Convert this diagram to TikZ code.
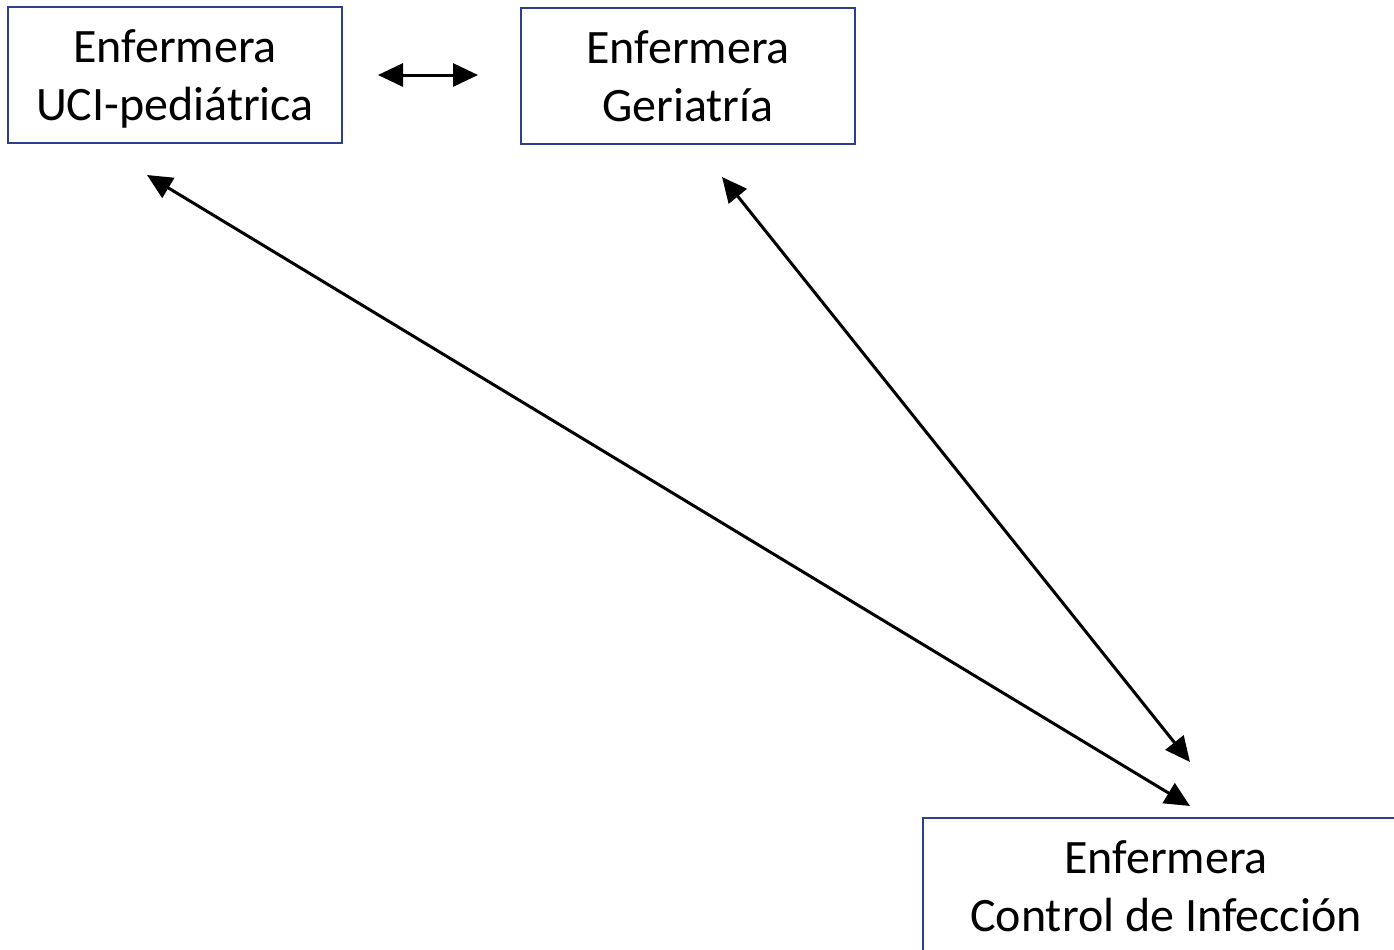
\documentclass[tikz,border=0pt]{standalone}
\usepackage{fontspec}
\setmainfont{Carlito}
\usetikzlibrary{arrows.meta}
\definecolor{boxblue}{HTML}{2F3F8F}
\tikzset{
  rolebox/.style={draw=boxblue, line width=1pt, minimum width=167pt, minimum height=68pt,
    inner sep=0pt, align=center, text depth=0pt, font=\fontsize{24}{29}\selectfont},
  link/.style={line width=1.5pt, {Triangle[length=12.5pt,width=11.5pt]}-{Triangle[length=12.5pt,width=11.5pt]}}
}
\begin{document}
\begin{tikzpicture}[x=0.5pt, y=-0.5pt]
\useasboundingbox (0,0) rectangle (1394,949);
\clip (0,0) rectangle (1394,949);

\node[rolebox] (uci) at (175,75) {Enfermera\\UCI-pediátrica};
\node[rolebox] (geri) at (688,76) {Enfermera\\Geriatría};
\node[rolebox, minimum width=243pt] (infec) at (1166,886) {Enfermera\\Control de Infección};

\coordinate (uciR) at (378,75);
\coordinate (geriL) at (478,75);
\coordinate (uciB) at (147,175);
\coordinate (geriB) at (722,177);
\coordinate (infecA) at (1190,806);
\coordinate (infecB) at (1190,762);

\draw [link] (uciR) -- (geriL);
\draw [link] (uciB) -- (infecA);
\draw [link] (geriB) -- (infecB);
\end{tikzpicture}
\end{document}
